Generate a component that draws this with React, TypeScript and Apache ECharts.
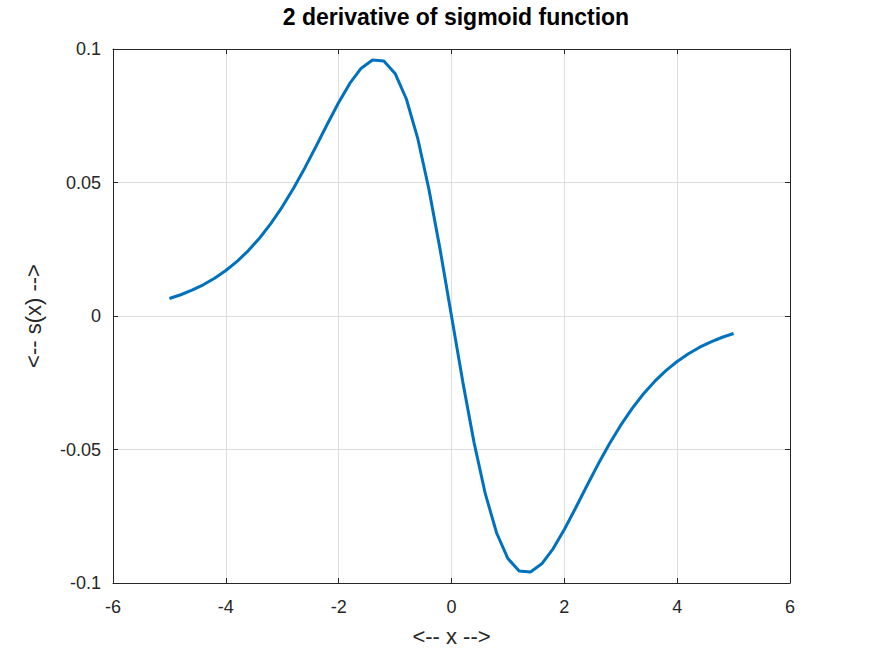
import React, { useEffect, useRef } from "react";
import * as echarts from "echarts";

const xValues: number[] = [
  -5, -4.8, -4.6, -4.4, -4.2, -4, -3.8, -3.6, -3.4, -3.2, -3, -2.8, -2.6, -2.4, -2.2, -2, -1.8, -1.6, -1.4, -1.2, -1, -0.8, -0.6, -0.4, -0.2,
  0, 0.2, 0.4, 0.6, 0.8, 1, 1.2, 1.4, 1.6, 1.8, 2, 2.2, 2.4, 2.6, 2.8, 3, 3.2, 3.4, 3.6, 3.8, 4, 4.2, 4.4, 4.6, 4.8, 5,
];
const yValues: number[] = [
  0.00656, 0.00796, 0.00966, 0.01169, 0.01413, 0.01703, 0.02047, 0.02451, 0.02923, 0.03468, 0.04089, 0.04784, 0.05546,
  0.06357, 0.07189, 0.07996, 0.08719, 0.09281, 0.0959, 0.09554, 0.09086, 0.08128, 0.06665, 0.04742, 0.02467,
  0,
  -0.02467, -0.04742, -0.06665, -0.08128, -0.09086, -0.09554, -0.0959, -0.09281, -0.08719, -0.07996, -0.07189, -0.06357,
  -0.05546, -0.04784, -0.04089, -0.03468, -0.02923, -0.02451, -0.02047, -0.01703, -0.01413, -0.01169, -0.00966, -0.00796, -0.00656,
];

const titleText = "2 derivative of sigmoid function";
const xLabel = "<-- x -->";
const yLabel = "<-- s(x) -->";

const FONT = "Liberation Sans, Arial, Helvetica, sans-serif";
const TXT = "#262626";

export default function App() {
  const ref = useRef<HTMLDivElement>(null);
  useEffect(() => {
    if (!ref.current) return;
    const chart = echarts.init(ref.current, undefined, { renderer: "svg" });
    const data = xValues.map((x, i) => [x, yValues[i]]);
    const axisLine = { show: true, onZero: false, lineStyle: { color: TXT, width: 1 } };
    const axisTick = { show: true, inside: true, length: 5, lineStyle: { color: TXT, width: 1 } };
    const splitLine = { show: true, lineStyle: { color: "#dedede", width: 1 } };
    chart.setOption({
      animation: false,
      backgroundColor: "#ffffff",
      title: {
        text: titleText,
        left: 451,
        top: 0,
        textAlign: "center",
        textStyle: { fontFamily: FONT, fontSize: 23, fontWeight: "bold", color: "#000" },
      },
      grid: { left: 113, top: 49, width: 677, height: 534, containLabel: false },
      xAxis: [
        {
          type: "value",
          min: -6,
          max: 6,
          interval: 2,
          position: "bottom",
          axisLine,
          axisTick,
          splitLine,
          axisLabel: { fontFamily: FONT, fontSize: 18, color: TXT, margin: 15 },
          name: xLabel,
          nameLocation: "middle",
          nameGap: 42,
          nameTextStyle: { fontFamily: FONT, fontSize: 22, color: TXT },
        },
        {
          type: "value",
          min: -6,
          max: 6,
          interval: 2,
          position: "top",
          axisLine,
          axisTick,
          splitLine: { show: false },
          axisLabel: { show: false },
        },
      ],
      yAxis: [
        {
          type: "value",
          min: -0.1,
          max: 0.1,
          interval: 0.05,
          position: "left",
          axisLine,
          axisTick,
          splitLine,
          axisLabel: { fontFamily: FONT, fontSize: 18, color: TXT, margin: 12 },
          name: yLabel,
          nameLocation: "middle",
          nameGap: 69,
          nameTextStyle: { fontFamily: FONT, fontSize: 22, color: TXT },
        },
        {
          type: "value",
          min: -0.1,
          max: 0.1,
          interval: 0.05,
          position: "right",
          axisLine,
          axisTick,
          splitLine: { show: false },
          axisLabel: { show: false },
        },
      ],
      series: [
        {
          type: "line",
          data,
          xAxisIndex: 0,
          yAxisIndex: 0,
          showSymbol: false,
          symbol: "none",
          lineStyle: { color: "#0072BD", width: 3 },
        },
      ],
    });
    return () => chart.dispose();
  }, []);
  return <div ref={ref} style={{ width: 873, height: 655, position: "absolute", left: 0, top: 0 }} />;
}
